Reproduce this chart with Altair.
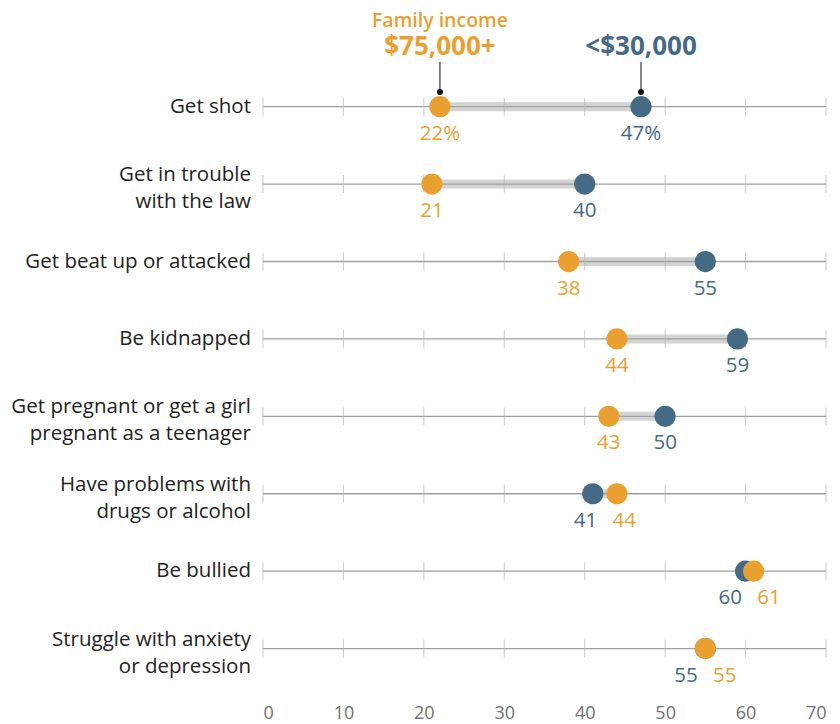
import altair as alt
import pandas as pd

# ---- data ----
activities = [
    "Get shot",
    "Get in trouble\nwith the law",
    "Get beat up or attacked",
    "Be kidnapped",
    "Get pregnant or get a girl\npregnant as a teenager",
    "Have problems with\ndrugs or alcohol",
    "Be bullied",
    "Struggle with anxiety\nor depression",
]
low_income = [47, 40, 55, 59, 50, 41, 60, 55]    # <$30,000
high_income = [22, 21, 38, 44, 43, 44, 61, 55]   # $75,000+
groups = ["<$30,000", "$75,000+"]
x_ticks = [0, 10, 20, 30, 40, 50, 60, 70]

BLUE = "#456A85"
ORANGE = "#EA9F31"
FONT = "Open Sans"

# ---- tables ----
rows = pd.DataFrame({
    "activity": activities,
    "row": list(range(len(activities))),
    "low": low_income,
    "high": high_income,
})
rows["lo"] = rows[["low", "high"]].min(axis=1)
rows["hi"] = rows[["low", "high"]].max(axis=1)
rows["nlines"] = rows["activity"].str.count("\n") + 1

pts = []
for i, a in enumerate(activities):
    lo_v, hi_v = low_income[i], high_income[i]
    close = abs(lo_v - hi_v) < 5
    mid = (lo_v + hi_v) / 2
    for g, v, other in [(groups[0], lo_v, hi_v), (groups[1], hi_v, lo_v)]:
        if close:
            left = (v < other) or (v == other and g == groups[0])
            lx = mid - 2.4 if left else mid + 2.4
        else:
            lx = v
        txt = f"{v}%" if i == 0 else f"{v}"
        pts.append({"activity": a, "row": i, "group": g, "value": v,
                    "label_x": lx, "label": txt})
pts = pd.DataFrame(pts)

ticks = pd.DataFrame([{"row": i, "tick": t} for i in range(len(activities)) for t in x_ticks])

header = pd.DataFrame({"group": groups, "value": [low_income[0], high_income[0]]})

xscale = alt.Scale(domain=[0, 70], nice=False, zero=False)
yscale = alt.Scale(domain=[-0.5, 7.6], reverse=True, nice=False, zero=False)
color_scale = alt.Scale(domain=groups, range=[BLUE, ORANGE])

base_x_axis = alt.Axis(values=x_ticks, grid=False, domain=False, ticks=False,
                       labelFont=FONT, labelFontSize=18, labelColor="#707070",
                       labelPadding=9, title=None)

# connecting bar
bar = alt.Chart(rows).mark_rule(color="#D3D3D3", strokeWidth=9).encode(
    x=alt.X("lo:Q", scale=xscale, axis=base_x_axis),
    x2="hi:Q",
    y=alt.Y("row:Q", scale=yscale, axis=None),
)

# row base line
line = alt.Chart(rows).mark_rule(color="#A0A0A0", strokeWidth=1.3).encode(
    x=alt.datum(0, scale=xscale),
    x2=alt.datum(70),
    y=alt.Y("row:Q", scale=yscale, axis=None),
)

tick_marks = alt.Chart(ticks).mark_tick(color="#B5B5B5", thickness=1, size=18, orient="vertical").encode(
    x=alt.X("tick:Q", scale=xscale),
    y=alt.Y("row:Q", scale=yscale, axis=None),
)

dots_blue = alt.Chart(pts).transform_filter(alt.datum.group == groups[0]).mark_circle(
    size=450, opacity=1).encode(
    x=alt.X("value:Q", scale=xscale),
    y=alt.Y("row:Q", scale=yscale),
    color=alt.Color("group:N", scale=color_scale, legend=None),
)
dots_orange = alt.Chart(pts).transform_filter(alt.datum.group == groups[1]).mark_circle(
    size=450, opacity=1).encode(
    x=alt.X("value:Q", scale=xscale),
    y=alt.Y("row:Q", scale=yscale),
    color=alt.Color("group:N", scale=color_scale, legend=None),
)

value_labels = alt.Chart(pts).mark_text(
    font=FONT, fontSize=20.5, baseline="middle", dy=27, align="center").encode(
    x=alt.X("label_x:Q", scale=xscale),
    y=alt.Y("row:Q", scale=yscale),
    text="label:N",
    color=alt.Color("group:N", scale=color_scale, legend=None),
)

row_labels_1 = alt.Chart(rows).transform_filter(alt.datum.nlines == 1).mark_text(
    font=FONT, fontSize=20.5, align="right", baseline="middle",
    color="#222222").encode(
    x=alt.value(-12),
    y=alt.Y("row:Q", scale=yscale),
    text="activity:N",
)
row_labels_2 = alt.Chart(rows).transform_filter(alt.datum.nlines == 2).mark_text(
    font=FONT, fontSize=20.5, align="right", baseline="middle", lineBreak="\n",
    color="#222222", lineHeight=27, dy=-9).encode(
    x=alt.value(-12),
    y=alt.Y("row:Q", scale=yscale),
    text="activity:N",
)

# header annotation
lead = alt.Chart(header).mark_rule(color="#333333", strokeWidth=1.2).encode(
    x=alt.X("value:Q", scale=xscale),
    y=alt.value(-6),
    y2=alt.value(24),
)
lead_dot = alt.Chart(header).mark_circle(size=36, color="#111111", opacity=1).encode(
    x=alt.X("value:Q", scale=xscale),
    y=alt.value(24),
)
head_big = alt.Chart(header).mark_text(
    font=FONT, fontSize=26, fontWeight="bold", baseline="middle", align="center").encode(
    x=alt.X("value:Q", scale=xscale),
    y=alt.value(-21),
    text="group:N",
    color=alt.Color("group:N", scale=color_scale, legend=None),
)
head_small = alt.Chart(header).transform_filter(alt.datum.group == groups[1]).mark_text(
    font=FONT, fontSize=19.5, fontWeight=600, baseline="middle", align="center", color=ORANGE).encode(
    x=alt.X("value:Q", scale=xscale),
    y=alt.value(-47),
    text=alt.value("Family income"),
)

chart = alt.layer(
    bar, line, tick_marks, dots_blue, dots_orange, value_labels, row_labels_1, row_labels_2,
    lead, lead_dot, head_big, head_small
).properties(
    width=563, height=627,
    padding={"left": 255, "top": 60, "right": 5, "bottom": 29},
    autosize=alt.AutoSizeParams(type="none"),
    background="white",
).configure_view(stroke=None)

chart.save("out.html", embed_options={"renderer": "svg", "actions": False})
